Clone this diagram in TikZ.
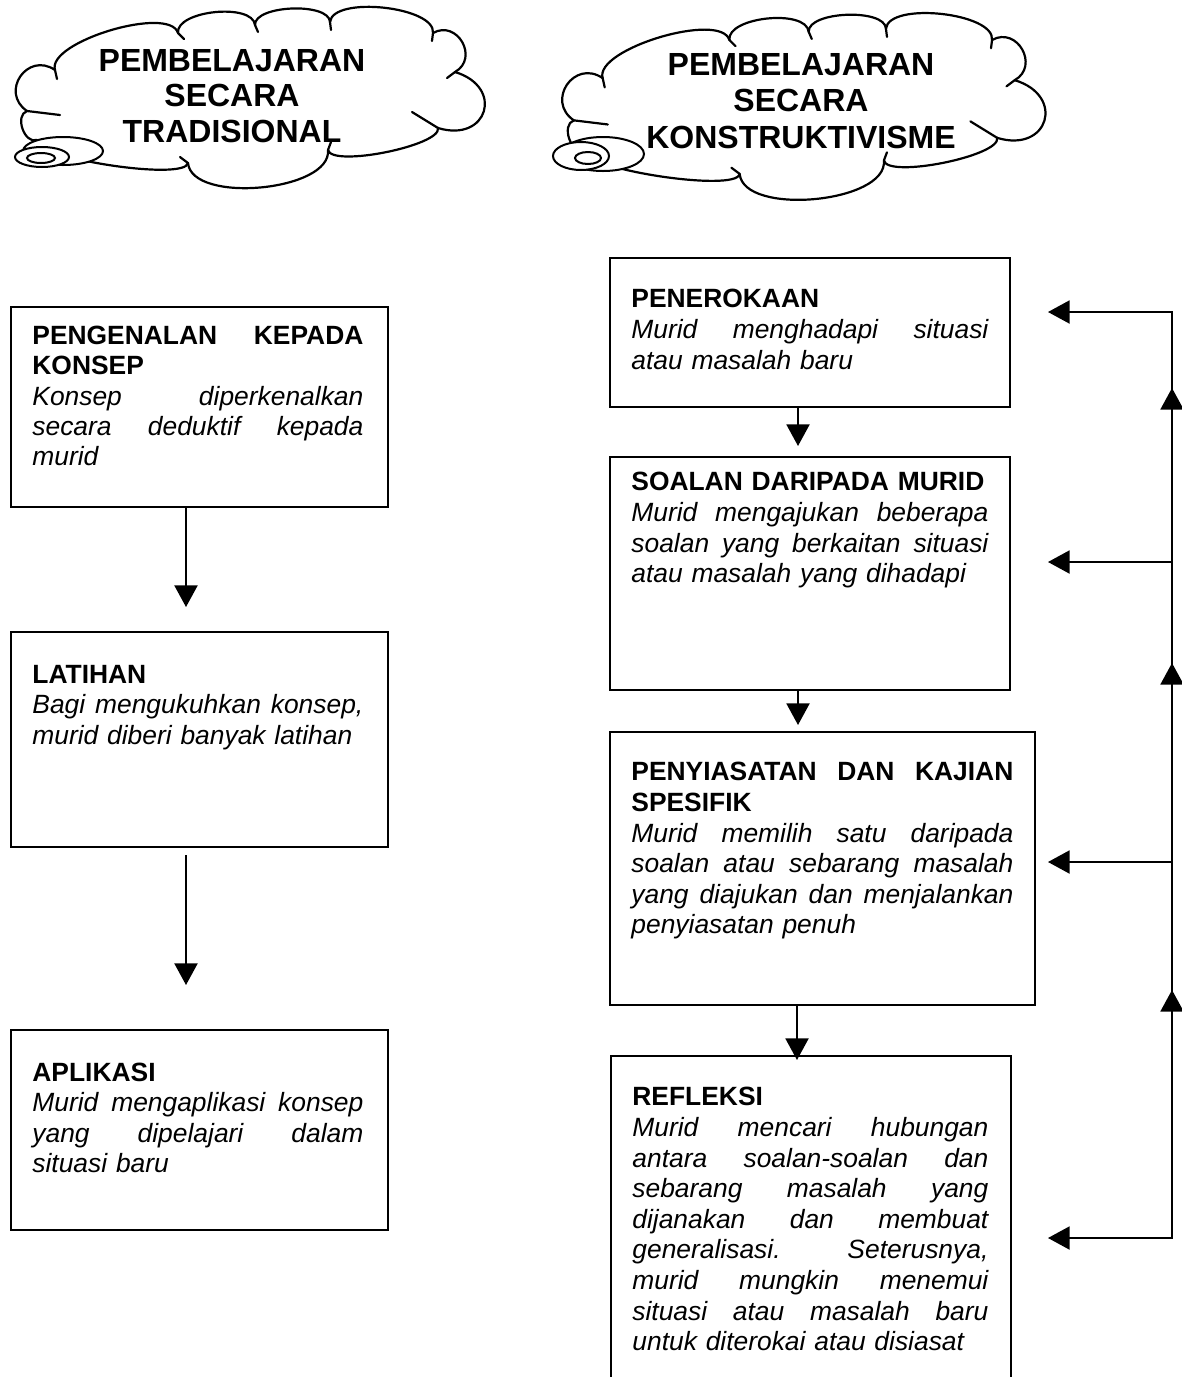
\documentclass[tikz,border=0pt]{standalone}
\usepackage{fontspec}
\setmainfont{Liberation Sans}
\usetikzlibrary{arrows.meta,calc}
\setlength\parindent{0pt}
\frenchspacing
\newcommand\tw{100pt}
\newcommand\J[1]{\leavevmode\hbox to \tw{#1}}
\newcommand\lump[3]{\draw[cloudline] (#1) .. controls ($(#1)!#3!90:(#2)$) and ($(#2)!#3!-90:(#1)$) .. (#2);}
\newcommand\cloudjoints{%
  \coordinate (A) at (27,111);  \coordinate (At) at (60,115);
  \coordinate (B) at (55,70);   \coordinate (Bt) at (57,79);
  \coordinate (C) at (178,33);  \coordinate (Ct) at (184,39);
  \coordinate (D) at (255,25);  \coordinate (Dt) at (258,32);
  \coordinate (E) at (330,22);  \coordinate (Et) at (331,30);
  \coordinate (F) at (433,33);  \coordinate (Ft) at (432,41);
  \coordinate (G) at (455,72);  \coordinate (Gt) at (447,78);
  \coordinate (H) at (438,128); \coordinate (Ht) at (412,112);
  \coordinate (I) at (328,150); \coordinate (It) at (331,142);
  \coordinate (J) at (188,163); \coordinate (Jt) at (180,157);
  \coordinate (K) at (37,140);
  \lump{A}{B}{16.7pt}
  \lump{B}{C}{14.7pt}
  \lump{C}{D}{11.3pt}
  \lump{D}{E}{10pt}
  \lump{E}{F}{13.3pt}
  \lump{F}{G}{14pt}
  \lump{G}{H}{26pt}
  \lump{H}{I}{9pt}
  \lump{I}{J}{20.7pt}
  \lump{J}{K}{9.3pt}
  \lump{K}{A}{6.7pt}
  \foreach \p in {A,B,C,D,E,F,G,H,I,J}{\draw[cloudline] (\p) -- (\p t);}
}
\begin{document}
\begin{tikzpicture}[x=0.5pt,y=-0.5pt,
  box/.style={draw, line width=1pt, inner sep=0pt, outer sep=0pt, anchor=north west},
  tw/.code={\renewcommand\tw{#1}\pgfkeysalso{text width=#1}},
  txtL/.style={anchor=north west, inner sep=0pt, align=left, font=\fontsize{13.2pt}{15.15pt}\selectfont},
  txtR/.style={anchor=north west, inner sep=0pt, align=left, font=\fontsize{13.2pt}{15.3pt}\selectfont},
  ttl/.style={anchor=north, inner sep=0pt, align=center, font=\fontsize{16pt}{17.75pt}\selectfont\bfseries},
  arr/.style={line width=1pt, -{Triangle[length=10.8pt,width=11.5pt]}},
  arrtwo/.style={line width=1pt, {Triangle[length=10.8pt,width=11.5pt]}-{Triangle[length=10.8pt,width=11.5pt]}},
  cloudline/.style={line width=1.1pt, line cap=round},
  bubble/.style={line width=1pt, fill=white}]
\useasboundingbox (0,0) rectangle (1182,1377);

% ---- clouds ----
\begin{scope}
  \cloudjoints
\end{scope}
\filldraw[bubble] (63,151) ellipse [x radius=20pt, y radius=7pt];
\filldraw[bubble] (42,157) ellipse [x radius=13.5pt, y radius=5pt];
\draw[line width=1pt] (41,158) ellipse [x radius=7pt, y radius=2.5pt];
\node[ttl] (h1) at (232,46) {\strut PEMBELAJARAN\\SECARA\\TRADISIONAL};

\begin{scope}[shift={(546,6)}, scale=1.03]
  \cloudjoints
\end{scope}
\filldraw[bubble] (603,154) ellipse [x radius=20.5pt, y radius=8.5pt];
\filldraw[bubble] (581,156) ellipse [x radius=14pt, y radius=7pt];
\draw[line width=1pt] (588,158) ellipse [x radius=6.5pt, y radius=3pt];
\node[ttl, font=\fontsize{16pt}{18.25pt}\selectfont\bfseries] (h2) at (801,49.5) {\strut PEMBELAJARAN\\SECARA\\KONSTRUKTIVISME};

% ---- left column ----
\node[box, minimum width=188.5pt, minimum height=100pt] (b1) at (11,307) {};
\node[box, minimum width=188.5pt, minimum height=107.5pt] (b2) at (11,632) {};
\node[box, minimum width=188.5pt, minimum height=100pt] (b3) at (11,1030) {};

\node[txtL, tw=165.5pt] (t1) at (32,323) {\J{\strut\bfseries PENGENALAN\hfill KEPADA}\\
  \textbf{KONSEP}\\
  \J{\itshape Konsep\hfill diperkenalkan}\\
  \J{\itshape secara\hfill deduktif\hfill kepada}\\
  \textit{murid}};
\node[txtL, tw=165.5pt] (t2) at (32,662) {\strut\textbf{LATIHAN}\\
  \J{\itshape Bagi\hfill mengukuhkan\hfill konsep,}\\
  \textit{murid diberi banyak latihan}};
\node[txtL, tw=165.5pt] (t3) at (32,1060) {\strut\textbf{APLIKASI}\\
  \J{\itshape Murid\hfill mengaplikasi\hfill konsep}\\
  \J{\itshape yang\hfill dipelajari\hfill dalam}\\
  \textit{situasi baru}};

\coordinate (ax) at (186,0);
\draw[arr, shorten >=12.5pt] (b1.south -| ax) -- (b2.north -| ax);
\draw[arr, shorten <=4pt, shorten >=22.5pt] (b2.south -| ax) -- (b3.north -| ax);

% ---- right column ----
\node[box, minimum width=200pt, minimum height=74.5pt] (r1) at (610,258) {};
\node[box, minimum width=200pt, minimum height=116.5pt] (r2) at (610,457) {};
\node[box, minimum width=212.5pt, minimum height=136.5pt] (r3) at (610,732) {};
\node[box, draw=none, minimum width=200pt, minimum height=160.5pt] (r4) at (611,1056) {};
\draw[line width=1pt] (r4.south west) -- (r4.north west) -- (r4.north east) -- (r4.south east);

\node[txtR, tw=178.5pt] (u1) at (631,286) {\strut\textbf{PENEROKAAN}\\
  \J{\itshape Murid\hfill menghadapi\hfill situasi}\\
  \textit{atau masalah baru}};
\node[txtR, tw=178.5pt] (u2) at (631,469) {\strut\textbf{SOALAN DARIPADA MURID}\\
  \J{\itshape Murid\hfill mengajukan\hfill beberapa}\\
  \J{\itshape soalan\hfill yang\hfill berkaitan\hfill situasi}\\
  \textit{atau masalah yang dihadapi}};
\node[txtR, tw=191pt] (u3) at (631,759) {\J{\strut\bfseries PENYIASATAN\hfill DAN\hfill KAJIAN}\\
  \textbf{SPESIFIK}\\
  \J{\itshape Murid\hfill memilih\hfill satu\hfill daripada}\\
  \J{\itshape soalan\hfill atau\hfill sebarang\hfill masalah}\\
  \J{\itshape yang\hfill diajukan\hfill dan\hfill menjalankan}\\
  \textit{penyiasatan penuh}};
\node[txtR, tw=178pt] (u4) at (632,1084) {\strut\textbf{REFLEKSI}\\
  \J{\itshape Murid\hfill mencari\hfill hubungan}\\
  \J{\itshape antara\hfill soalan-soalan\hfill dan}\\
  \J{\itshape sebarang\hfill masalah\hfill yang}\\
  \J{\itshape dijanakan\hfill dan\hfill membuat}\\
  \J{\itshape generalisasi.\hfill Seterusnya,}\\
  \J{\itshape murid\hfill mungkin\hfill menemui}\\
  \J{\itshape situasi\hfill atau\hfill masalah\hfill baru}\\
  \textit{untuk diterokai atau disiasat}};

\coordinate (bx) at (798,0);
\coordinate (cx) at (797,0);
\draw[arr, shorten >=5.5pt] (r1.south -| bx) -- (r2.north -| bx);
\draw[arr, shorten >=3.5pt] (r2.south -| bx) -- (r3.north -| bx);
\draw[arr, shorten >=-2pt] (r3.south -| cx) -- (r4.north -| cx);

% ---- feedback loop ----
\coordinate (L1) at (1172,312);
\coordinate (L2) at (1172,562);
\coordinate (L3) at (1172,862);
\coordinate (L4) at (1172,1238);
\coordinate (S0) at (1172,462);
\coordinate (S1) at (1172,738);
\coordinate (S2) at (1172,1063);
\coordinate (U1) at (1172,388);
\coordinate (U2) at (1172,663);
\coordinate (U3) at (1172,990);
\draw[arr, shorten >=19pt] (S0) -- (L1) -- (L1 -| r1.east);
\draw[arr] (S1) -- (U1);
\draw[arr] (S2) -- (U2);
\draw[arr, shorten >=19pt] (L2) -- (L2 -| r2.east);
\draw[arr, shorten >=6.5pt] (L3) -- (L3 -| r3.east);
\draw[arrtwo, shorten >=18.5pt] (U3) -- (L4) -- (L4 -| r4.east);
\end{tikzpicture}
\end{document}
